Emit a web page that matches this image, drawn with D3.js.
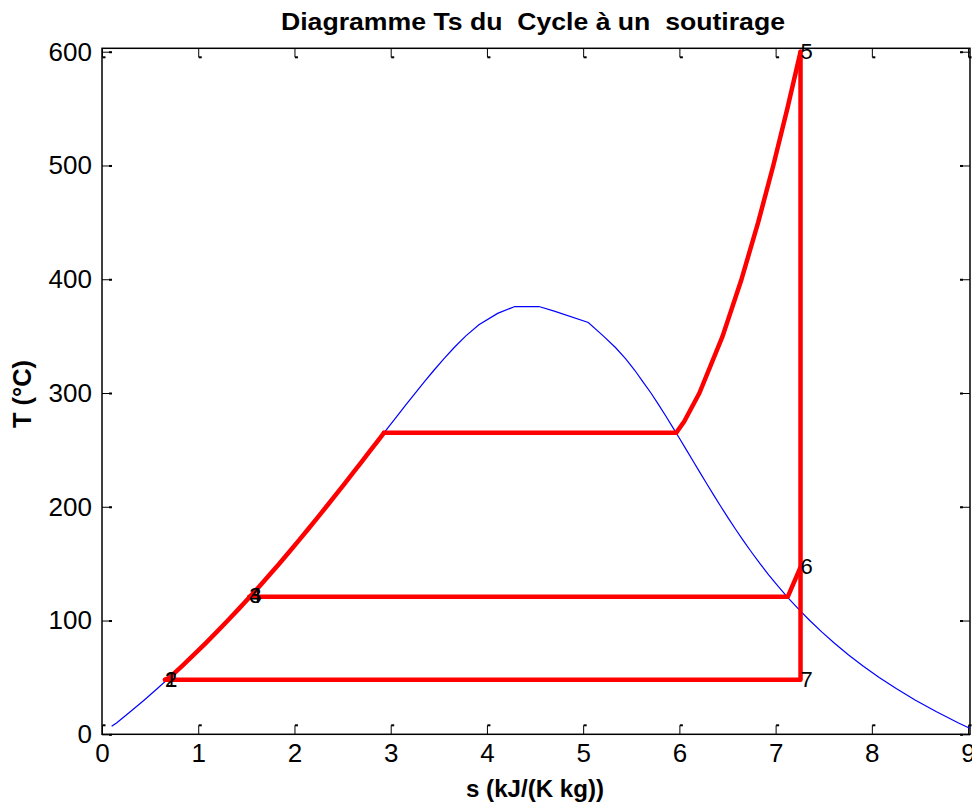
<!DOCTYPE html>
<html>
<head>
<meta charset="utf-8">
<script src="https://cdn.jsdelivr.net/npm/d3@7"></script>
<style>
  html, body { margin: 0; padding: 0; background: #fff; }
  svg { display: block; font-family: "Liberation Sans", Arial, sans-serif; }
</style>
</head>
<body>
<svg id="chart" width="972" height="808"></svg>
<script>
// ---- Data ----
const titleText = "Diagramme Ts du  Cycle à un  soutirage";
const xLabel = "s (kJ/(K kg))";
const yLabel = "T (°C)";
const xTicks = [0, 1, 2, 3, 4, 5, 6, 7, 8, 9];
const yTicks = [0, 100, 200, 300, 400, 500, 600];

// Saturation dome (blue): liquid side then vapour side
const domeS = [0.10, 0.1511, 0.2966, 0.4369, 0.5725, 0.7038, 0.8313, 0.9551, 1.0756, 1.1929, 1.3072,
  1.4188, 1.5279, 1.6346, 1.7392, 1.8418, 1.9426, 2.0417, 2.1392, 2.2355, 2.3305, 2.4245, 2.5177,
  2.6101, 2.7020, 2.7935, 2.8849, 2.9765, 3.0685, 3.1612, 3.2552, 3.3510, 3.4494, 3.5518, 3.6601,
  3.7784, 3.9167, 4.1112, 4.29, 4.54, 4.70, 5.0536, 5.2112, 5.3357, 5.4425, 5.5362, 5.6198, 5.7045,
  5.7821, 5.8571, 5.9296, 6.0019, 6.0730, 6.1437, 6.2146, 6.2861, 6.3585, 6.4323, 6.5079, 6.5857,
  6.6663, 6.7502, 6.8379, 6.9299, 7.0269, 7.1296, 7.2387, 7.3549, 7.4791, 7.6122, 7.7553, 7.9081,
  8.0763, 8.2570, 8.4533, 8.6672, 8.9008, 9.0257];
const domeT = [7, 10, 20, 30, 40, 50, 60, 70, 80, 90, 100,
  110, 120, 130, 140, 150, 160, 170, 180, 190, 200, 210, 220,
  230, 240, 250, 260, 270, 280, 290, 300, 310, 320, 330, 340,
  350, 360, 370, 376, 376, 372, 362, 350, 340, 330, 320, 310, 300,
  290, 280, 270, 260, 250, 240, 230, 220, 210, 200, 190, 180,
  170, 160, 150, 140, 130, 120, 110, 100, 90, 80, 70, 60,
  50, 40, 30, 20, 10, 5];

// Cycle (red): pumped liquid heating 1 -> boiling start
const heatS = [0.655, 0.7038, 0.8313, 0.9551, 1.0756, 1.1929, 1.3072, 1.4188, 1.5279, 1.6346, 1.7392,
  1.8418, 1.9426, 2.0417, 2.1392, 2.2355, 2.3305, 2.4245, 2.5177, 2.6101, 2.7020, 2.7935, 2.8849, 2.93];
const heatT = [48, 50, 60, 70, 80, 90, 100, 110, 120, 130, 140,
  150, 160, 170, 180, 190, 200, 210, 220, 230, 240, 250, 260, 265];
// Evaporation + superheating up to point 5
const boilS = [2.93, 5.966, 6.05, 6.2084, 6.4493, 6.6459, 6.8186, 6.9759, 7.1218, 7.2589];
const boilT = [265, 265, 275, 300, 350, 400, 450, 500, 550, 600];
// Expansion 5 -> 6 -> 7 and condensation 7 -> 1
const turbS = [7.2589, 7.2589, 7.2589, 0.655];
const turbT = [600, 147, 48, 48];
// Extraction 6 -> saturated vapour -> 3
const bleedS = [7.2589, 7.1271, 1.5301];
const bleedT = [147, 121, 121];

// Point labels
const ptNames = ["1", "2", "3", "4", "5", "6", "7"];
const ptS = [0.655, 0.655, 1.5301, 1.5301, 7.2589, 7.2589, 7.2589];
const ptT = [48, 48, 121, 121, 600, 147, 48];

// ---- Layout ----
const svg = d3.select("#chart");
const L = 102, R = 970, T0 = 48.3, B = 734.3;
const x = d3.scaleLinear().domain([0, 9.02]).range([L, R]);
const y = d3.scaleLinear().domain([0, 603]).range([B, T0]);

svg.append("defs").append("clipPath").attr("id", "plotclip")
  .append("rect").attr("x", L).attr("y", T0).attr("width", R - L).attr("height", B - T0);

// Axes with inward ticks
const tickLen = 9;
const fs = 26;
const gx = svg.append("g").attr("transform", `translate(0,${B})`)
  .call(d3.axisBottom(x).tickValues(xTicks).tickSize(-tickLen).tickPadding(9).tickFormat(d3.format("d")));
const gxt = svg.append("g").attr("transform", `translate(0,${T0})`)
  .call(d3.axisTop(x).tickValues(xTicks).tickSize(-tickLen).tickFormat(""));
const gy = svg.append("g").attr("transform", `translate(${L},0)`)
  .call(d3.axisLeft(y).tickValues(yTicks).tickSize(-tickLen).tickPadding(10).tickFormat(d3.format("d")));
const gyr = svg.append("g").attr("transform", `translate(${R},0)`)
  .call(d3.axisRight(y).tickValues(yTicks).tickSize(-tickLen).tickFormat(""));

[gx, gxt, gy, gyr].forEach(g => {
  g.select(".domain").remove();
  g.selectAll(".tick line").attr("stroke", "#000").attr("stroke-width", 1);
  g.selectAll(".tick text").attr("fill", "#000").attr("font-size", fs)
    .attr("font-family", "'Liberation Sans', Arial, sans-serif");
});
// small caps at inner tick ends (as in the reference rendering)
gx.selectAll(".tick").append("rect").attr("x", 0).attr("y", -tickLen - 1).attr("width", 3).attr("height", 2).attr("fill", "#000");
gxt.selectAll(".tick").append("rect").attr("x", 0).attr("y", tickLen - 1).attr("width", 3).attr("height", 2).attr("fill", "#000");
gy.selectAll(".tick").append("rect").attr("x", tickLen - 2).attr("y", -1).attr("width", 3).attr("height", 2).attr("fill", "#000");
gyr.selectAll(".tick").append("rect").attr("x", -tickLen - 1).attr("y", -1).attr("width", 3).attr("height", 2).attr("fill", "#000");

// Box
svg.append("rect").attr("x", L).attr("y", T0).attr("width", R - L).attr("height", B - T0)
  .attr("fill", "none").attr("stroke", "#000").attr("stroke-width", 1.5);

// Lines
const plot = svg.append("g").attr("clip-path", "url(#plotclip)");
const line = d3.line().x(d => x(d[0])).y(d => y(d[1]));
const zip = (a, b) => a.map((v, i) => [v, b[i]]);

plot.append("path").datum(zip(domeS, domeT)).attr("d", line)
  .attr("fill", "none").attr("stroke", "#0000ff").attr("stroke-width", 1.2);

[[heatS, heatT], [boilS, boilT], [turbS, turbT], [bleedS, bleedT]].forEach(([s, t]) => {
  plot.append("path").datum(zip(s, t)).attr("d", line)
    .attr("fill", "none").attr("stroke", "#ff0000").attr("stroke-width", 4.5)
    .attr("stroke-linejoin", "round").attr("stroke-linecap", "round");
});

// Point labels
svg.append("g").selectAll("text").data(ptNames).join("text")
  .attr("x", (d, i) => x(ptS[i]))
  .attr("y", (d, i) => y(ptT[i]) + 1)
  .attr("dominant-baseline", "middle")
  .attr("font-size", 22).attr("fill", "#000")
  .text(d => d);

// Title and axis labels
svg.append("text").attr("x", 533).attr("y", 30).attr("text-anchor", "middle")
  .style("white-space", "pre").attr("xml:space", "preserve")
  .attr("font-size", 24).attr("font-weight", "bold").attr("textLength", 504)
  .attr("lengthAdjust", "spacingAndGlyphs").text(titleText);
svg.append("text").attr("x", 535).attr("y", 797).attr("text-anchor", "middle")
  .attr("font-size", 24).attr("font-weight", "bold").attr("textLength", 138)
  .attr("lengthAdjust", "spacingAndGlyphs").text(xLabel);
svg.append("text").attr("transform", "translate(31,394) rotate(-90)").attr("text-anchor", "middle")
  .attr("font-size", 26).attr("font-weight", "bold").attr("textLength", 68)
  .attr("lengthAdjust", "spacingAndGlyphs").text(yLabel);
</script>
</body>
</html>
